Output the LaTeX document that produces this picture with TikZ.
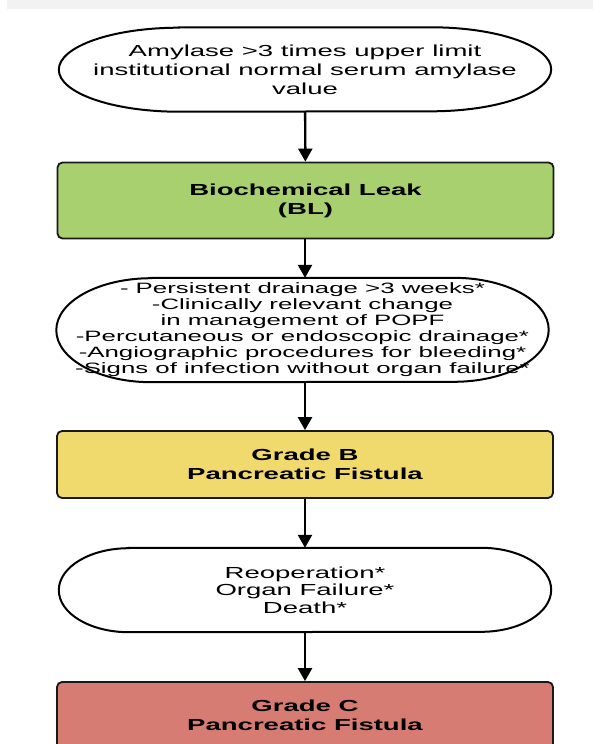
\documentclass[tikz,border=0pt]{standalone}
\usepackage{fontspec}
\setmainfont{Liberation Sans}[FakeStretch=1.72]
\usetikzlibrary{arrows.meta}

\definecolor{leakgreen}{HTML}{A8D06E}
\definecolor{gradebyellow}{HTML}{F0DA6E}
\definecolor{gradecred}{HTML}{D67C72}

% outline with elliptic ends round a named node
\newcommand{\pillline}[3]{%
  \draw[line width=2pt] ([xshift=#2pt]#1.north west) -- ([xshift=-#2pt]#1.north east)
    arc[start angle=90,end angle=-90,x radius=#2pt,y radius=#3pt]
    -- ([xshift=#2pt]#1.south west)
    arc[start angle=270,end angle=90,x radius=#2pt,y radius=#3pt] -- cycle;}

\begin{document}
\begin{tikzpicture}[x=1pt,y=1pt,
  gradebox/.style={draw=black!90,line width=1.8pt,rounded corners=5pt,
    minimum width=496pt,align=center,font=\bfseries\fontsize{16}{19}\selectfont},
  critnode/.style={minimum width=492pt,align=center},
  flow/.style={line width=2.4pt,-{Triangle[width=14pt,length=13pt]}}]
\useasboundingbox (0,0) rectangle (593,-744);
\clip (0,0) rectangle (593,-744);
\fill[black!5] (7,0) rectangle (593,-9);

\node[critnode,minimum height=84pt,font=\fontsize{16}{19}\selectfont] (amylase) at (305,-69.5)
  {Amylase >3 times upper limit\\institutional normal serum amylase\\value};
\pillline{amylase}{120}{42}

\node[gradebox,fill=leakgreen,minimum height=76pt] (leak) at (305.5,-200.5) {Biochemical Leak\\(BL)};

\node[critnode,minimum height=104pt,font=\fontsize{15}{16}\selectfont] (criteriab) at (302.5,-330)
  {- Persistent drainage >3 weeks*\\-Clinically relevant change\\in management of POPF\\
   -Percutaneous or endoscopic drainage*\\-Angiographic procedures for bleeding*\\
   -Signs of infection without organ failure*};
\pillline{criteriab}{95}{52}

\node[gradebox,fill=gradebyellow,minimum height=67pt] (gradeb) at (305,-464.5) {Grade B\\Pancreatic Fistula};

\node[critnode,minimum height=84pt,font=\fontsize{16}{17.5}\selectfont] (criteriac) at (305,-590)
  {Reoperation*\\Organ Failure*\\Death*};
\pillline{criteriac}{70}{42}

\node[gradebox,fill=gradecred,minimum height=67pt] (gradec) at (305,-715.5) {Grade C\\Pancreatic Fistula};

\draw[flow] (amylase) -- (leak);
\draw[flow] (leak.south -| gradeb.north) -- (gradeb.north |- criteriab.north);
\draw[flow] (gradeb.north |- criteriab.south) -- (gradeb);
\draw[flow] (gradeb) -- (criteriac);
\draw[flow] (criteriac) -- (gradec);
\end{tikzpicture}
\end{document}
